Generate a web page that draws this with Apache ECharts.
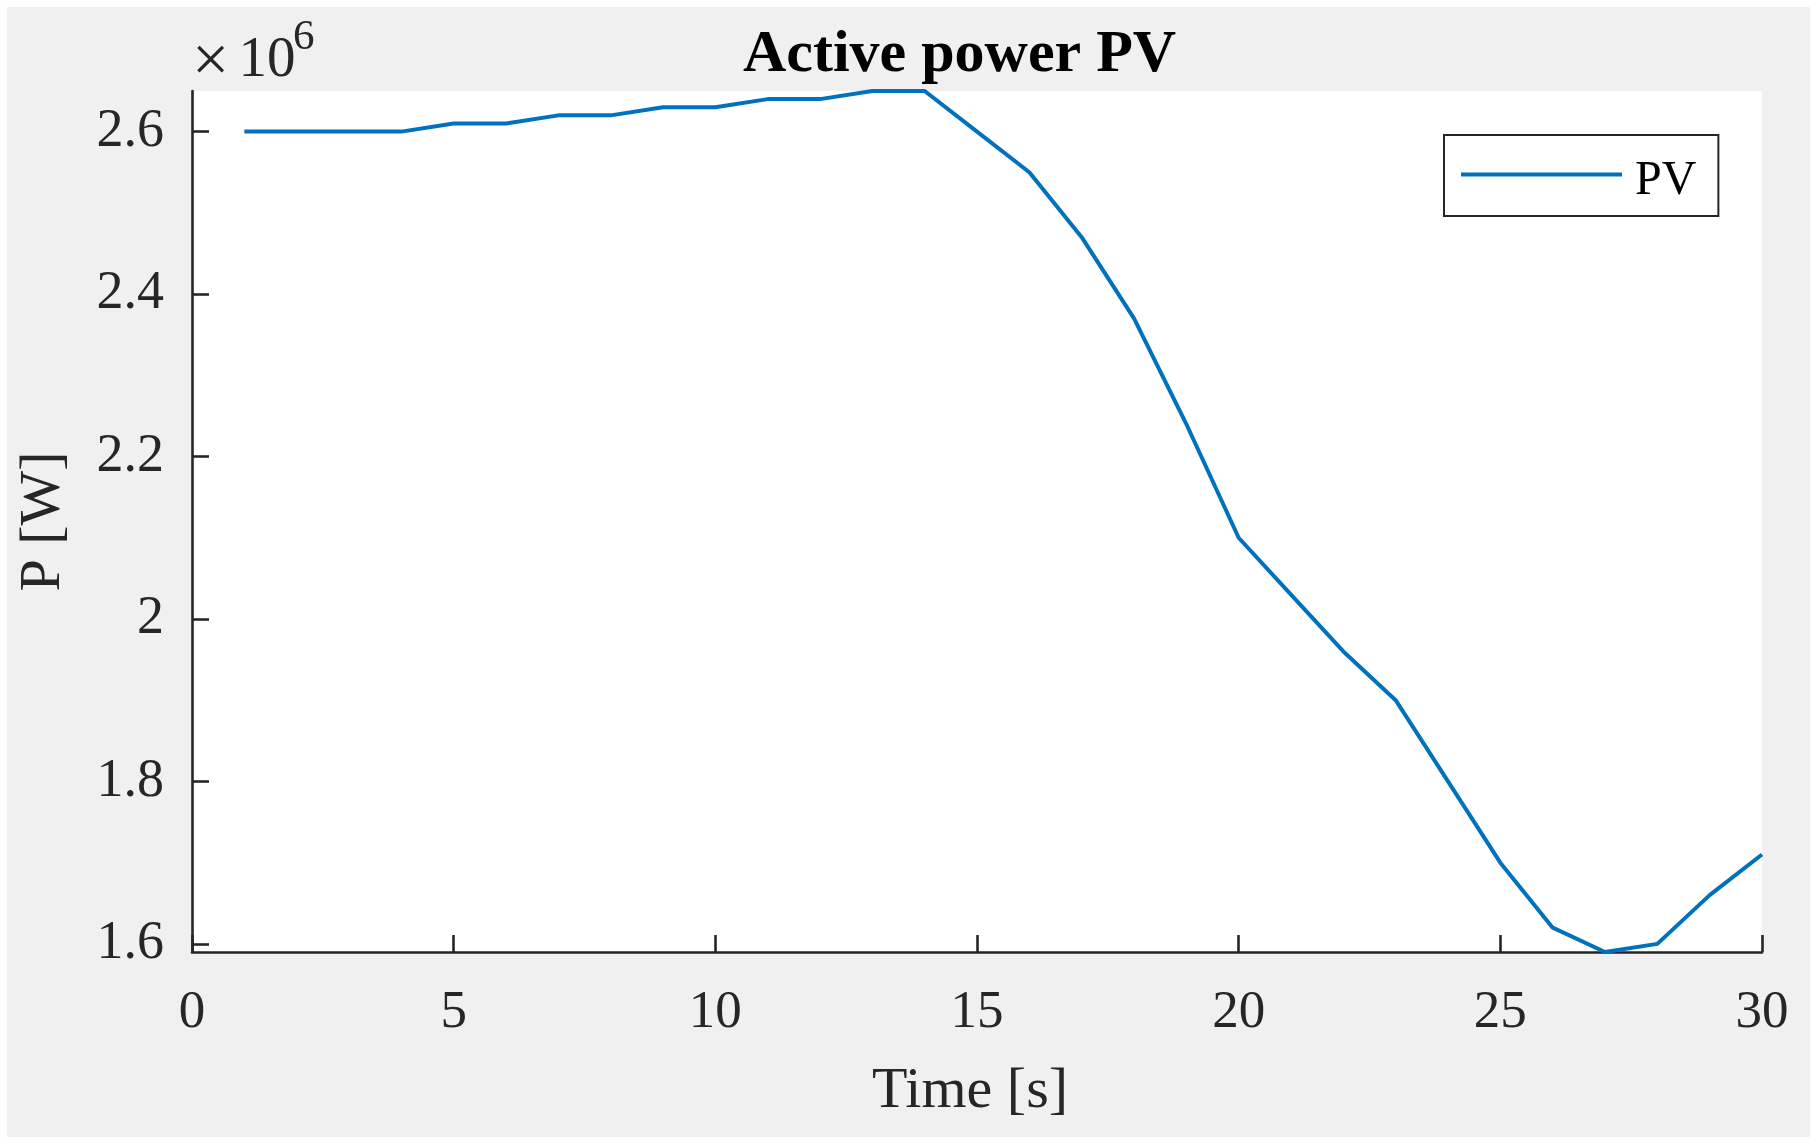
<!DOCTYPE html>
<html>
<head>
<meta charset="utf-8">
<script src="https://cdn.jsdelivr.net/npm/echarts@6/dist/echarts.min.js"></script>
<style>
  html, body { margin: 0; padding: 0; background: #ffffff; width: 1818px; height: 1147px; overflow: hidden; }
  #chart { position: absolute; left: 7px; top: 7px; width: 1803px; height: 1130px; }
</style>
</head>
<body>
<div id="chart"></div>
<script>
// ---- data (power in units of 10^6 W) ----
const timeS = [1, 2, 3, 4, 5, 6, 7, 8, 9, 10, 11, 12, 13, 14, 15, 16, 17, 18, 19, 20, 21, 22, 23, 24, 25, 26, 27, 28, 29, 30];
const powerPV = [2.60, 2.60, 2.60, 2.60, 2.61, 2.61, 2.62, 2.62, 2.63, 2.63, 2.64, 2.64, 2.65, 2.65, 2.60,
                 2.55, 2.47, 2.37, 2.24, 2.10, 2.03, 1.96, 1.90, 1.80, 1.70, 1.62, 1.59, 1.60, 1.66, 1.71];
const xTicks = [0, 5, 10, 15, 20, 25, 30];
const yTicks = [1.6, 1.8, 2.0, 2.2, 2.4, 2.6];
const seriesName = 'PV';
const titleText = 'Active power PV';
const xName = 'Time [s]';
const yName = 'P [W]';

const FONT = 'Liberation Serif';
const AX = '#262626';

const chart = echarts.init(document.getElementById('chart'), null, { renderer: 'canvas' });
chart.setOption({
  animation: false,
  backgroundColor: '#f0f0f0',
  title: {
    text: titleText,
    left: 736, top: 18, padding: 0,
    textStyle: { fontFamily: FONT, fontWeight: 'bold', fontSize: 60, color: '#000000' }
  },
  graphic: [
    { type: 'text', x: 203.5, y: 56.5, style: { text: '×', font: '66px "Liberation Serif"', fill: AX, align: 'center', verticalAlign: 'middle' } },
    { type: 'text', x: 231.5, y: 54, style: { text: '10', font: '57px "Liberation Serif"', fill: AX, align: 'left', verticalAlign: 'middle' } },
    { type: 'text', x: 286, y: 31, style: { text: '6', font: '43px "Liberation Serif"', fill: AX, align: 'left', verticalAlign: 'middle' } }
  ],
  legend: {
    data: [{ name: seriesName, icon: 'rect' }],
    left: 1437, top: 128,
    orient: 'horizontal',
    padding: [22, 22, 11, 17],
    itemWidth: 161, itemHeight: 4,
    backgroundColor: '#ffffff',
    borderColor: AX, borderWidth: 2, borderRadius: 0,
    formatter: '{a|{name}}',
    textStyle: {
      fontFamily: FONT, fontSize: 48, color: '#000000',
      rich: { a: { fontFamily: FONT, fontSize: 48, color: '#000000', padding: [13, 0, 0, 8] } }
    }
  },
  grid: {
    left: 184, top: 84, width: 1571, height: 861,
    show: true, backgroundColor: '#ffffff', borderWidth: 0, containLabel: false
  },
  xAxis: {
    type: 'value', min: 0, max: 30, interval: 5,
    name: xName, nameLocation: 'middle', nameGap: 111,
    nameTextStyle: { fontFamily: FONT, fontSize: 58, color: AX, padding: [0, 14, 0, 0] },
    axisLine: { show: true, onZero: false, lineStyle: { color: AX, width: 2.6 } },
    axisTick: { show: true, inside: true, length: 17, lineStyle: { color: AX, width: 2.6 }, customValues: xTicks },
    axisLabel: { fontFamily: FONT, fontSize: 53, color: AX, margin: 35, customValues: xTicks },
    splitLine: { show: false }
  },
  yAxis: {
    type: 'value', min: 1.59, max: 2.65,
    name: yName, nameLocation: 'middle', nameGap: 119,
    nameTextStyle: { fontFamily: FONT, fontSize: 58, color: AX },
    axisLine: { show: true, onZero: false, lineStyle: { color: AX, width: 2.6 } },
    axisTick: { show: true, inside: true, length: 17, lineStyle: { color: AX, width: 2.6 }, customValues: yTicks },
    axisLabel: {
      fontFamily: FONT, fontSize: 54, color: AX, margin: 28, customValues: yTicks,
      formatter: v => String(+v.toFixed(1))
    },
    splitLine: { show: false }
  },
  series: [{
    name: seriesName,
    type: 'line',
    data: timeS.map((t, i) => [t, powerPV[i]]),
    showSymbol: false,
    symbol: 'none',
    lineStyle: { color: '#0072BD', width: 4 },
    itemStyle: { color: '#0072BD' }
  }]
});
</script>
</body>
</html>
